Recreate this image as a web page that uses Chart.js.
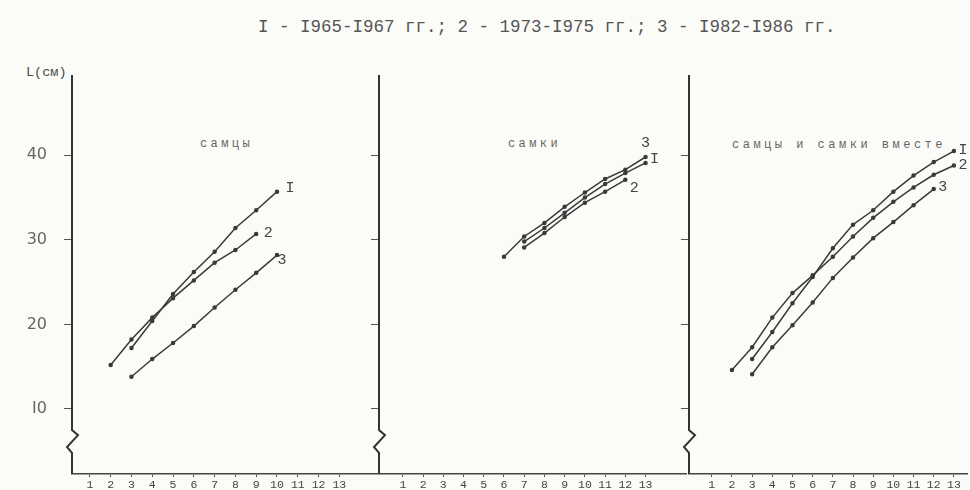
<!DOCTYPE html>
<html>
<head>
<meta charset="utf-8">
<script src="https://cdn.jsdelivr.net/npm/chart.js@4"></script>
<style>
  body { margin: 0; background: #fbfbf8; }
  #wrap { position: relative; width: 970px; height: 490px; overflow: hidden; }
  canvas { position: absolute; top: 0; }
  .txt { position: absolute; font-family: "Liberation Mono", monospace; color: #4a4a4a; white-space: nowrap; }
</style>
</head>
<body>
<div id="wrap">
  <div class="txt" style="left:258px;top:17px;font-size:17.5px;color:#555;">I - I965-I967 гг.; 2 - 1973-I975 гг.; 3 - I982-I986 гг.</div>
  <div class="txt" style="left:26px;top:65px;font-size:13.5px;">L(см)</div>
  <div class="txt" style="left:200px;top:137px;font-size:12px;letter-spacing:3.4px;color:#666;">самцы</div>
  <div class="txt" style="left:508px;top:137px;font-size:12px;letter-spacing:3.4px;color:#666;">самки</div>
  <div class="txt" style="left:732px;top:138px;font-size:12px;letter-spacing:3.5px;color:#666;">самцы и самки вместе</div>
  <canvas id="c1" width="380" height="490" style="left:0px"></canvas>
  <canvas id="c2" width="329" height="490" style="left:360px"></canvas>
  <canvas id="c3" width="300" height="490" style="left:670px"></canvas>
</div>
<script>
// age (years) 1..13
const ages = [1, 2, 3, 4, 5, 6, 7, 8, 9, 10, 11, 12, 13];
const xTickLabels = ['1', '2', '3', '4', '5', '6', '7', '8', '9', '10', '11', '12', '13'];
const yTicks = [10, 20, 30, 40];
const yTickLabels = ['I0', '20', '30', '40'];
const seriesNames = ['I', '2', '3'];

// самцы
const males1 = [null, null, 17.2, 20.4, 23.6, 26.2, 28.6, 31.4, 33.5, 35.7, null, null, null];
const males2 = [null, 15.2, 18.2, 20.8, 23.1, 25.2, 27.3, 28.8, 30.7, null, null, null, null];
const males3 = [null, null, 13.8, 15.9, 17.8, 19.8, 22.0, 24.1, 26.1, 28.2, null, null, null];

// самки
const females1 = [null, null, null, null, null, null, 29.8, 31.4, 33.2, 35.0, 36.6, 37.9, 39.1];
const females2 = [null, null, null, null, null, null, 29.1, 30.8, 32.7, 34.4, 35.7, 37.1, null];
const females3 = [null, null, null, null, null, 28.0, 30.4, 32.0, 33.9, 35.6, 37.2, 38.3, 39.8];

// самцы и самки вместе
const all1 = [null, null, 15.9, 19.1, 22.5, 25.6, 29.0, 31.8, 33.5, 35.7, 37.6, 39.2, 40.5];
const all2 = [null, 14.6, 17.3, 20.8, 23.7, 25.8, 28.0, 30.4, 32.6, 34.5, 36.2, 37.7, 38.8];
const all3 = [null, null, 14.1, 17.3, 19.9, 22.6, 25.5, 27.9, 30.2, 32.1, 34.1, 36.0, null];

const ink = '#3a3a3a';

function toPoints(vals) {
  const pts = [];
  vals.forEach((v, i) => { if (v !== null) pts.push({ x: ages[i], y: v }); });
  return pts;
}

// axis line with the break zigzag + end labels of the curves
const decor = {
  id: 'decor',
  afterDatasetsDraw(chart) {
    const ctx = chart.ctx;
    const y = chart.scales.y;
    const L = chart.chartArea.left;
    ctx.save();
    ctx.strokeStyle = '#333';
    ctx.lineWidth = 2;
    ctx.beginPath();
    ctx.moveTo(L, chart.chartArea.top);
    ctx.lineTo(L, y.getPixelForValue(7.5));
    ctx.lineTo(L + 6, y.getPixelForValue(6.9));
    ctx.lineTo(L - 5, y.getPixelForValue(5.5));
    ctx.lineTo(L, y.getPixelForValue(4.8));
    ctx.lineTo(L, chart.chartArea.bottom);
    ctx.stroke();

    ctx.fillStyle = '#444';
    ctx.font = '15px "Liberation Mono", monospace';
    ctx.textAlign = 'center';
    ctx.textBaseline = 'middle';
    chart.data.datasets.forEach((ds, i) => {
      const meta = chart.getDatasetMeta(i);
      const last = meta.data[meta.data.length - 1];
      ctx.fillText(ds.label, last.x + ds.lblOff[0], last.y + ds.lblOff[1]);
    });
    ctx.restore();
  }
};

function makePanel(id, sets, offs, xMin, xMax, yAxisW, showY) {
  new Chart(document.getElementById(id), {
    type: 'line',
    data: {
      datasets: sets.map((s, i) => ({
        label: seriesNames[i],
        data: toPoints(s),
        borderColor: ink,
        backgroundColor: ink,
        borderWidth: 1.5,
        pointRadius: 1.5,
        pointHoverRadius: 1.5,
        tension: 0,
        lblOff: offs[i]
      }))
    },
    options: {
      responsive: false,
      animation: false,
      events: [],
      layout: { padding: { top: 75, left: 0, right: 0, bottom: 0 } },
      plugins: { legend: { display: false }, tooltip: { enabled: false } },
      scales: {
        x: {
          type: 'linear',
          min: xMin,
          max: xMax,
          afterBuildTicks: s => { s.ticks = ages.map(a => ({ value: a })); },
          afterFit: s => { s.height = 16; s.paddingLeft = 0; s.paddingRight = 0; },
          border: { display: true, color: '#444', width: 1.5 },
          grid: { drawOnChartArea: false, drawTicks: true, tickLength: 3, color: '#555' },
          ticks: {
            padding: 1,
            color: '#444',
            font: { family: 'Liberation Mono', size: 11.5 },
            maxRotation: 0,
            autoSkip: false,
            callback: (v) => xTickLabels[ages.indexOf(v)]
          }
        },
        y: {
          min: 2.3,
          max: 49.5,
          afterBuildTicks: s => { s.ticks = yTicks.map(v => ({ value: v })); },
          afterFit: s => { s.width = yAxisW; s.paddingTop = 0; s.paddingBottom = 0; },
          border: { display: false },
          grid: { drawOnChartArea: false, drawTicks: true, tickLength: 8, color: '#555' },
          ticks: {
            display: showY,
            padding: 17,
            color: '#666',
            font: { family: 'DejaVu Sans', size: 16 },
            callback: (v) => yTickLabels[yTicks.indexOf(v)]
          }
        }
      }
    },
    plugins: [decor]
  });
}

makePanel('c1', [males1, males2, males3], [[13, -4], [12, -1], [5, 5]], 0.14, 14.81, 72, true);
makePanel('c2', [females1, females2, females3], [[9, -4], [9, 8], [0, -14]], -0.18, 15.0, 19, false);
makePanel('c3', [all1, all2, all3], [[9, -1], [9, 0], [9, -2]], -0.13, 13.65, 19, false);
</script>
</body>
</html>
